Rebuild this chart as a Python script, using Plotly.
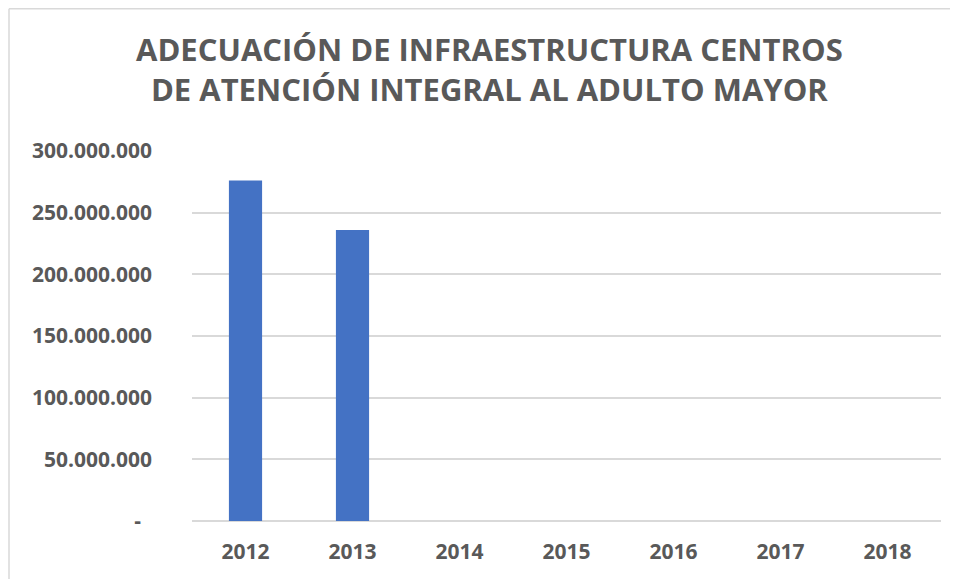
import plotly.graph_objects as go

years = ["2012", "2013", "2014", "2015", "2016", "2017", "2018"]
values = [276000000, 236000000, 0, 0, 0, 0, 0]
tick_vals = [0, 50000000, 100000000, 150000000, 200000000, 250000000, 300000000]
tick_text = ["-\u00a0\u00a0", "50.000.000", "100.000.000", "150.000.000",
             "200.000.000", "250.000.000", "300.000.000"]
title_text = ("ADECUACIÓN DE INFRAESTRUCTURA CENTROS<br>"
              "DE ATENCIÓN INTEGRAL AL ADULTO MAYOR")

OFF = 8  # page body margin
W, H = 958 - OFF, 579 - OFF
L, R, T, B = 192 - OFF, 17, 151 - OFF, 58
pw, ph = W - L - R, H - T - B

def px(x):
    return (x - OFF - L) / pw

def py(y):
    return (H - B - (y - OFF)) / ph

txt = "#595959"
font = "Open Sans"

fig = go.Figure(go.Bar(x=years, y=values, marker_color="#4472C4",
                       marker_line_width=0))

fig.update_layout(
    width=W, height=H,
    margin=dict(l=L, r=R, t=T, b=B),
    paper_bgcolor="white", plot_bgcolor="white",
    bargap=0.69,
    showlegend=False,
    font=dict(family=font, color=txt),
    xaxis=dict(type="category", showgrid=False, showline=False, zeroline=False,
               tickfont=dict(family=font, size=21, color=txt, weight="bold"),
               ticks="", ticklabelstandoff=16),
    yaxis=dict(range=[0, 300000000], tickvals=tick_vals, ticktext=tick_text,
               showgrid=True, gridcolor="#d9d9d9", gridwidth=1.5,
               zeroline=True, zerolinecolor="#d9d9d9", zerolinewidth=1.5,
               showline=False, ticks="", ticklabelstandoff=39,
               tickfont=dict(family=font, size=21, color=txt, weight="bold")),
)

fig.add_annotation(text=title_text, xref="paper", yref="paper",
                   x=px(489), y=py(69), xanchor="center", yanchor="middle",
                   showarrow=False, align="center",
                   font=dict(family=font, size=31, color=txt, weight="bold"))

border = "#d9d9d9"
fig.add_shape(type="line", xref="paper", yref="paper",
              x0=px(9), x1=px(958), y0=py(OFF + 0.75), y1=py(OFF + 0.75),
              line=dict(color=border, width=1.5))
fig.add_shape(type="line", xref="paper", yref="paper",
              x0=px(9), x1=px(9), y0=py(OFF + 0.75), y1=py(579),
              line=dict(color=border, width=1.5))

fig.write_html("out.html")
